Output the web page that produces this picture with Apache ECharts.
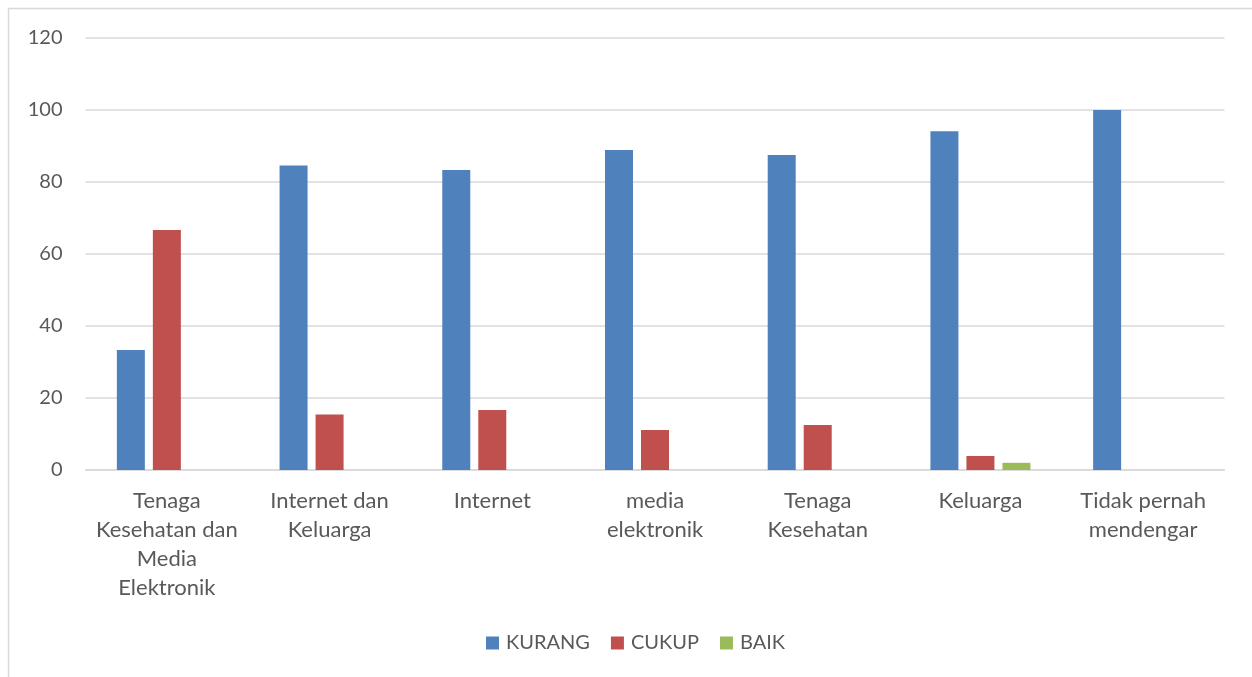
<!DOCTYPE html>
<html>
<head>
<meta charset="utf-8">
<script src="https://cdn.jsdelivr.net/npm/echarts@6/dist/echarts.min.js"></script>
<style>
html,body{margin:0;padding:0;background:#fff;}
#chart{width:1252px;height:677px;}
</style>
</head>
<body>
<div id="chart"></div>
<script>
const categories = [
  "Tenaga\nKesehatan dan\nMedia\nElektronik",
  "Internet dan\nKeluarga",
  "Internet",
  "media\nelektronik",
  "Tenaga\nKesehatan",
  "Keluarga",
  "Tidak pernah\nmendengar"
];
const seriesNames = ["KURANG", "CUKUP", "BAIK"];
const kurang = [33.3, 84.6, 83.3, 88.9, 87.5, 94.1, 100];
const cukup  = [66.7, 15.4, 16.7, 11.1, 12.5, 3.9, null];
const baik   = [null, null, null, null, null, 2.0, null];
const yTicks = [0, 20, 40, 60, 80, 100, 120];

const colors = ["#4f81bd", "#c0504d", "#9bbb59"];
const font = "Lato, 'Open Sans', sans-serif";

const chart = echarts.init(document.getElementById('chart'), null, {renderer: 'canvas'});
const mk = (name, data, i) => ({
  name: name,
  type: 'bar',
  data: data,
  barWidth: 28,
  barGap: '28.6%',
  itemStyle: {color: colors[i]},
  emphasis: {disabled: true}
});
chart.setOption({
  animation: false,
  backgroundColor: '#ffffff',
  graphic: [{
    type: 'rect',
    shape: {x: 8.5, y: 8.5, width: 1260, height: 700},
    style: {fill: 'none', stroke: '#d9d9d9', lineWidth: 1.5},
    silent: true
  }],
  grid: {left: 85.5, right: 27.5, top: 38, bottom: 207, containLabel: false},
  legend: {
    bottom: 19,
    left: 481,
    itemWidth: 13,
    itemHeight: 13,
    itemGap: 21,
    icon: 'rect',
    textStyle: {fontFamily: font, fontSize: 20, color: '#595959', padding: [0, 0, 0, 2]},
    data: seriesNames
  },
  xAxis: {
    type: 'category',
    data: categories,
    axisLine: {show: true, lineStyle: {color: '#d9d9d9', width: 1.5}},
    axisTick: {show: false},
    axisLabel: {
      interval: 0,
      margin: 16,
      fontFamily: font,
      fontSize: 22,
      lineHeight: 29,
      color: '#595959',
      align: 'center'
    }
  },
  yAxis: {
    type: 'value',
    min: yTicks[0],
    max: yTicks[yTicks.length - 1],
    interval: 20,
    axisLine: {show: false},
    axisTick: {show: false},
    splitLine: {lineStyle: {color: '#d9d9d9', width: 1.5}},
    axisLabel: {
      margin: 23,
      fontFamily: font,
      fontSize: 20,
      color: '#595959',
      formatter: v => yTicks.includes(v) ? String(v) : ''
    }
  },
  series: [mk(seriesNames[0], kurang, 0), mk(seriesNames[1], cukup, 1), mk(seriesNames[2], baik, 2)]
});
</script>
</body>
</html>
